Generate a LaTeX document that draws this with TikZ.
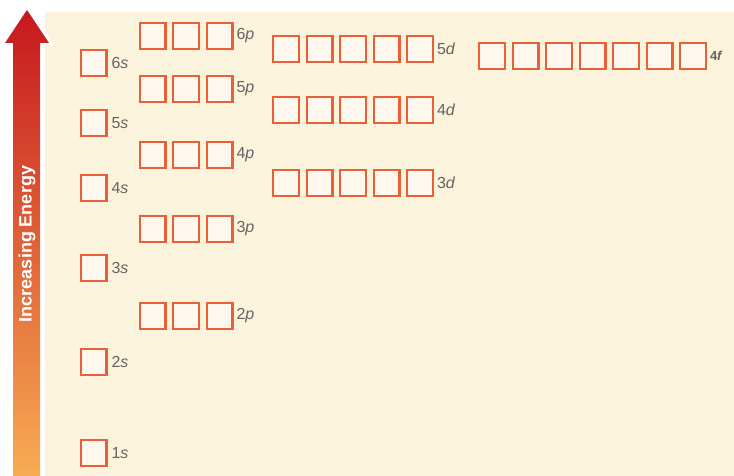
\documentclass[tikz,border=0pt]{standalone}
\usepackage{fontspec}
\setmainfont{Liberation Sans}
\usepackage{tikz}
\usetikzlibrary{positioning}
\definecolor{orbline}{RGB}{232,96,56}
\definecolor{orbfill}{RGB}{253,247,238}
\definecolor{bgbeige}{RGB}{252,243,221}
\definecolor{lblgray}{RGB}{100,100,100}
\definecolor{arrtop}{RGB}{198,24,30}
\definecolor{arrmid}{RGB}{232,98,46}
\definecolor{arrbot}{RGB}{249,176,84}
\tikzset{
  orb/.style={rectangle, draw=orbline, fill=orbfill, line width=2.4pt,
    minimum size=25.6pt, inner sep=0pt, outer sep=0pt},
  lbl/.style={font=\fontsize{16}{17}\selectfont, text=lblgray, inner sep=0pt},
  smalllbl/.style={font=\fontsize{13}{14}\selectfont\bfseries, text=lblgray, inner sep=0pt}
}
\begin{document}
\begin{tikzpicture}[x=1pt, y=-1pt]
  \useasboundingbox (0,0) rectangle (734,476);

  % Background panel
  \fill[bgbeige] (45,12) rectangle (734,476);

  % Energy arrow
  \draw[white, line width=5pt, line join=miter]
    (13,490) -- (13,43) -- (5,43) -- (27,10) -- (49,43) -- (40,43) -- (40,490) -- cycle;
  \shade[top color=arrtop, middle color=arrmid, bottom color=arrbot]
    (13,490) -- (13,43) -- (5,43) -- (27,10) -- (49,43) -- (40,43) -- (40,490) -- cycle;
  \node[rotate=90, text=white, font=\fontsize{18}{18}\selectfont\bfseries] (energy) at (27,244) {Increasing Energy};

  % s orbitals
  \foreach \n/\y in {1/453, 2/362, 3/268, 4/188, 5/123, 6/63} {
    \node[orb] (\n s) at (93.5,\y) {};
    \node[lbl, right=5pt of \n s] (\n slbl) {\n\textit{s}};
  }

  % p orbitals
  \foreach \n/\y in {2/316, 3/229, 4/155, 5/89, 6/36} {
    \node[orb] (\n p1) at (152.5,\y) {};
    \foreach \i [count=\j from 2] in {1,2}
      \node[orb, right=7.9pt of \n p\i] (\n p\j) {};
    \node[lbl, right=4pt of \n p3] (\n plbl) {\n\textit{p}};
  }

  % d orbitals
  \foreach \n/\y in {3/183, 4/110, 5/49} {
    \node[orb] (\n d1) at (286,\y) {};
    \foreach \i [count=\j from 2] in {1,...,4}
      \node[orb, right=7.9pt of \n d\i] (\n d\j) {};
    \node[lbl, right=4pt of \n d5] (\n dlbl) {\n\textit{d}};
  }

  % f orbitals
  \node[orb] (4f1) at (492,56) {};
  \foreach \i [count=\j from 2] in {1,...,6}
    \node[orb, right=7.9pt of 4f\i] (4f\j) {};
  \node[smalllbl, right=4pt of 4f7] (4flbl) {4\textit{f}};
\end{tikzpicture}
\end{document}
